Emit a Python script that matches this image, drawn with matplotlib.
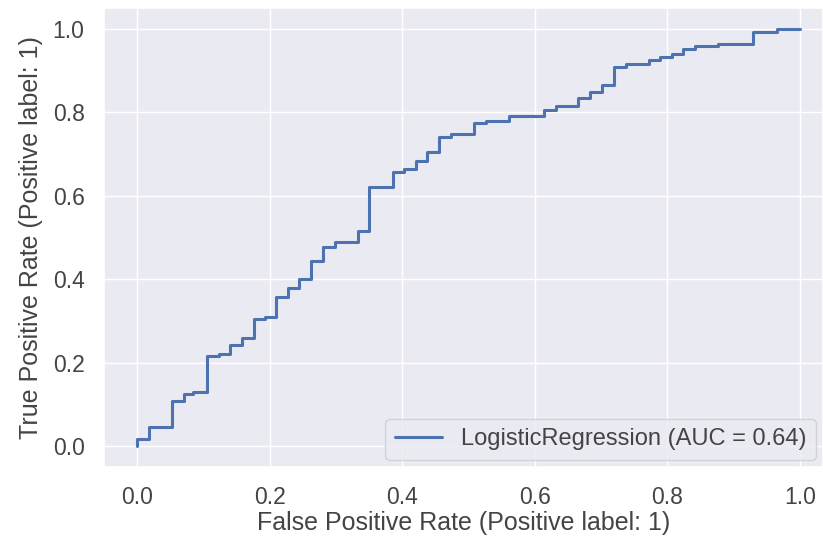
import matplotlib
matplotlib.use("Agg")
import matplotlib.pyplot as plt
import seaborn as sns

# ROC curve corner points
fpr = [0.0, 0.0, 0.018, 0.018, 0.053, 0.053, 0.071, 0.071, 0.085, 0.085,
       0.105, 0.105, 0.123, 0.123, 0.14, 0.14, 0.158, 0.158, 0.176, 0.176,
       0.193, 0.193, 0.21, 0.21, 0.228, 0.228, 0.245, 0.245, 0.263, 0.263,
       0.281, 0.281, 0.298, 0.298, 0.334, 0.334, 0.350, 0.350, 0.386, 0.386,
       0.403, 0.403, 0.421, 0.421, 0.438, 0.438, 0.456, 0.456, 0.474, 0.474,
       0.508, 0.508, 0.526, 0.526, 0.561, 0.561, 0.614, 0.614, 0.632, 0.632,
       0.666, 0.666, 0.684, 0.684, 0.702, 0.702, 0.719, 0.719, 0.737, 0.737,
       0.772, 0.772, 0.789, 0.789, 0.807, 0.807, 0.824, 0.824, 0.842, 0.842,
       0.877, 0.877, 0.929, 0.929, 0.965, 0.965, 1.0]
tpr = [0.0, 0.016, 0.016, 0.047, 0.047, 0.107, 0.107, 0.124, 0.124, 0.13,
       0.13, 0.215, 0.215, 0.222, 0.222, 0.243, 0.243, 0.258, 0.258, 0.305,
       0.305, 0.31, 0.31, 0.357, 0.357, 0.38, 0.38, 0.40, 0.40, 0.443,
       0.443, 0.477, 0.477, 0.489, 0.489, 0.515, 0.515, 0.620, 0.620, 0.657,
       0.657, 0.664, 0.664, 0.683, 0.683, 0.704, 0.704, 0.742, 0.742, 0.748,
       0.748, 0.774, 0.774, 0.779, 0.779, 0.791, 0.791, 0.805, 0.805, 0.815,
       0.815, 0.834, 0.834, 0.848, 0.848, 0.866, 0.866, 0.909, 0.909, 0.916,
       0.916, 0.926, 0.926, 0.933, 0.933, 0.94, 0.94, 0.952, 0.952, 0.959,
       0.959, 0.964, 0.964, 0.993, 0.993, 1.0, 1.0]
model_name = "LogisticRegression"
auc_value = 0.64
xlabel = "False Positive Rate (Positive label: 1)"
ylabel = "True Positive Rate (Positive label: 1)"

sns.set_theme(style="darkgrid")
plt.rcParams['font.family'] = ['Liberation Sans', 'DejaVu Sans']

W, H = 823, 541
fig = plt.figure(figsize=(W / 100, H / 100), dpi=100)
left, right, top, bottom = 104, 823, 8, 467
ax = fig.add_axes([left / W, 1 - bottom / H, (right - left) / W, (bottom - top) / H])

ax.plot(fpr, tpr, color="#4c72b0", linewidth=2.2,
        label=f"{model_name} (AUC = {auc_value:.2f})")
ax.set_xlim(-0.05, 1.035)
ax.set_ylim(-0.05, 1.05)
ax.set_xticks([0.0, 0.2, 0.4, 0.6, 0.8, 1.0])
ax.set_yticks([0.0, 0.2, 0.4, 0.6, 0.8, 1.0])
ax.tick_params(labelsize=16.5, colors="#444444", pad=8)
ax.set_xlabel(xlabel, fontsize=18, color="#444444", labelpad=1)
ax.set_ylabel(ylabel, fontsize=18, color="#444444", labelpad=7)
leg = ax.legend(loc="lower right", fontsize=17, borderaxespad=0.3)
for t in leg.get_texts():
    t.set_color("#444444")

fig.savefig("out.png", dpi=100)
